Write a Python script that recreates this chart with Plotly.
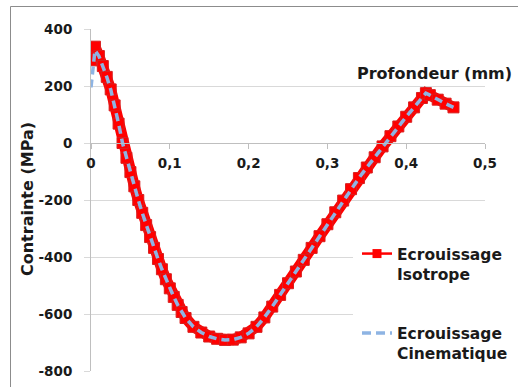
import plotly.graph_objects as go

# Data
depth_mm = [0, 0.005, 0.01, 0.015, 0.02, 0.025, 0.03, 0.035, 0.04, 0.045, 0.05,
            0.055, 0.06, 0.065, 0.07, 0.075, 0.08, 0.085, 0.09, 0.095, 0.10,
            0.105, 0.11, 0.115, 0.12, 0.13, 0.14, 0.15, 0.16, 0.17, 0.18, 0.19,
            0.20, 0.21, 0.22, 0.23, 0.24, 0.25, 0.26, 0.27, 0.28, 0.29, 0.30,
            0.31, 0.32, 0.33, 0.34, 0.35, 0.36, 0.37, 0.38, 0.39, 0.40, 0.41,
            0.42, 0.425, 0.43, 0.44, 0.45, 0.46]
isotrope = [290, 338, 305, 270, 232, 188, 132, 68, 0, -52, -102,
            -152, -200, -245, -288, -330, -368, -407, -443, -478, -510,
            -540, -568, -593, -614, -645, -665, -679, -687, -691, -690, -682,
            -668, -645, -612, -574, -533, -492, -451, -410, -368, -327, -285,
            -243, -202, -162, -123, -86, -50, -12, 24, 58, 92, 125,
            158, 175, 168, 152, 138, 125]
cinematique = [195, 325, 305, 270, 232, 188, 132, 68, 0, -52, -102,
               -152, -200, -245, -288, -330, -368, -407, -443, -478, -510,
               -540, -568, -593, -614, -645, -665, -679, -687, -691, -690, -682,
               -668, -645, -612, -574, -533, -492, -451, -410, -368, -327, -285,
               -243, -202, -162, -123, -86, -50, -12, 24, 58, 92, 125,
               158, 175, 168, 152, 138, 125]
series_names = ["Ecrouissage<br>Isotrope", "Ecrouissage<br>Cinematique"]
x_tickvals = [0, 0.1, 0.2, 0.3, 0.4, 0.5]
x_ticktext = ["0", "0,1", "0,2", "0,3", "0,4", "0,5"]
y_tickvals = [400, 200, 0, -200, -400, -600, -800]
y_ticktext = ["400", "200", "0", "-200", "-400", "-600", "-800"]
x_title = "Profondeur (mm)"
y_title = "Contrainte (MPa)"

RED = "#FF0000"
RED_EDGE = "#D82020"
BLUE = "#8EB4E3"
GRID = "#D9D9D9"
AXIS = "#BFBFBF"
TXT = "#1A1A1A"

fig = go.Figure()
# main curves (legend handled by separate entries)
fig.add_trace(go.Scatter(
    x=depth_mm, y=isotrope, mode="lines+markers", showlegend=False,
    line=dict(color=RED, width=11),
    marker=dict(symbol="square", size=11, color=RED,
                line=dict(color=RED_EDGE, width=1)),
    hoverinfo="skip"))
fig.add_trace(go.Scatter(
    x=depth_mm, y=cinematique, mode="lines", showlegend=False,
    line=dict(color=BLUE, width=3.5, dash="8px,5px"),
    hoverinfo="skip"))
# legend entries
fig.add_trace(go.Scatter(
    x=[None], y=[None], mode="lines+markers", name=series_names[0],
    legendgroup="a",
    line=dict(color=RED, width=2.5),
    marker=dict(symbol="square", size=9, color=RED)))
fig.add_trace(go.Scatter(
    x=[None], y=[None], mode="lines", name=series_names[1],
    legendgroup="b",
    line=dict(color=BLUE, width=3.5, dash="9px,5px")))

W, H = 518, 387
L, R, T, B = 91, 33, 29, 16
pw, ph = W - L - R, H - T - B

def px(xpix):
    return (xpix - L) / pw

def py(ypix):
    return (H - B - ypix) / ph

TICKFONT = dict(family="DejaVu Sans", size=13.5, weight="bold", color=TXT)

fig.update_layout(
    width=W, height=H, autosize=False,
    margin=dict(l=L, r=R, t=T, b=B, pad=0, autoexpand=False),
    paper_bgcolor="white", plot_bgcolor="white",
    font=dict(family="DejaVu Sans", color=TXT),
    xaxis=dict(
        range=[0, 0.5], anchor="free", position=2/3,
        tickvals=x_tickvals, ticktext=x_ticktext, tickfont=TICKFONT,
        showgrid=False, zeroline=False,
        showline=True, linecolor=AXIS, linewidth=1,
        ticks="outside", ticklen=5, tickcolor=AXIS, tickwidth=1,
        ticklabelstandoff=3,
    ),
    yaxis=dict(
        range=[-800, 400], domain=[0, 1],
        tickvals=y_tickvals, ticktext=y_ticktext, tickfont=TICKFONT,
        showgrid=True, gridcolor=GRID, gridwidth=1, zeroline=False,
        showline=True, linecolor=AXIS, linewidth=1,
        ticks="outside", ticklen=6, tickcolor=GRID, tickwidth=1,
        ticklabelstandoff=9,
    ),
    legend=dict(
        x=px(357), y=py(237), xanchor="left", yanchor="top",
        bgcolor="rgba(0,0,0,0)", borderwidth=0,
        font=dict(family="DejaVu Sans", size=15.5, weight="bold", color=TXT),
        valign="top", tracegroupgap=36, itemwidth=30,
    ),
    shapes=[
        dict(type="rect", xref="paper", yref="paper", layer="above",
             x0=px(353), x1=px(W + 5), y0=py(H + 5), y1=py(232),
             fillcolor="white", line=dict(width=0)),
        dict(type="rect", xref="paper", yref="paper", layer="above",
             x0=px(10.5), x1=px(W + 5), y0=py(H + 5), y1=py(6.5),
             fillcolor="rgba(0,0,0,0)", line=dict(color="#8C8C8C", width=1)),
    ],
    annotations=[
        dict(text=x_title, xref="paper", yref="paper",
             x=px(514), y=py(74), xanchor="right", yanchor="middle",
             showarrow=False,
             font=dict(family="DejaVu Sans", size=16, weight="bold", color=TXT)),
        dict(text=y_title, xref="paper", yref="paper", textangle=-90,
             x=px(27), y=py(199), xanchor="center", yanchor="middle",
             showarrow=False,
             font=dict(family="DejaVu Sans", size=16, weight="bold", color=TXT)),
    ],
)

fig.write_html(
    "out.html",
    config={"displayModeBar": False},
    post_script="document.body.style.margin='0px';document.body.style.overflow='hidden';",
)
